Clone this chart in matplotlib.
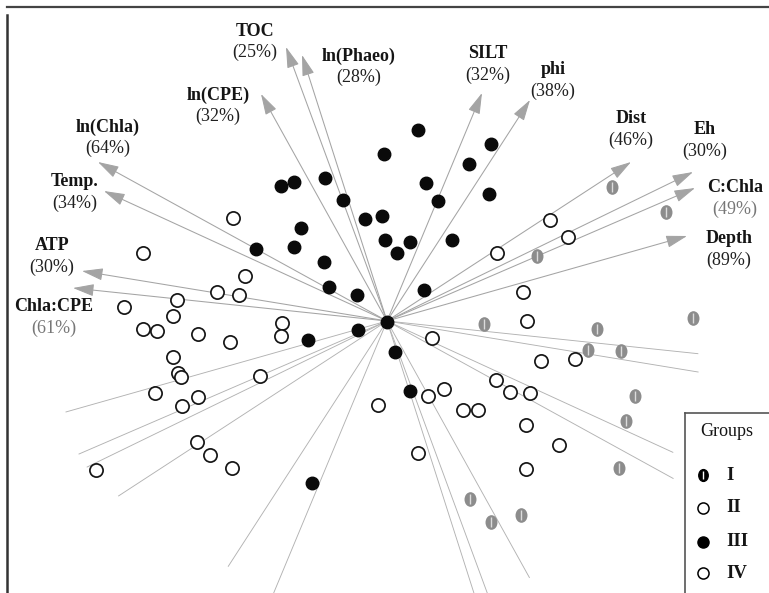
import matplotlib
matplotlib.use("Agg")
import matplotlib.pyplot as plt
from matplotlib.path import Path
from matplotlib.transforms import Affine2D

# variable loadings (arrow tips) and how far each axis line runs back past the origin
variables = ["TOC", "ln(Phaeo)", "ln(CPE)", "ln(Chla)", "Temp.", "ATP", "Chla:CPE",
             "SILT", "phi", "Dist", "Eh", "C:Chla", "Depth"]
percent = ["25%", "28%", "32%", "64%", "34%", "30%", "61%",
           "32%", "38%", "46%", "30%", "49%", "89%"]
load_x = [-1.01, -0.85, -1.26, -2.89, -2.83, -3.05, -3.14, 0.95, 1.43, 2.44, 3.06, 3.08, 3.00]
load_y = [2.74, 2.66, 2.27, 1.59, 1.30, 0.50, 0.33, 2.28, 2.21, 1.59, 1.49, 1.33, 0.85]
back = [1.05, 1.05, 1.13, 0.99, 1.01, 1.02, 0.99, 1.2, 1.11, 1.1, 0.98, 1.0, 1.07]

# station scores by group
g1_x = [2.25, 2.79, 1.50, 0.97, 2.10, 2.01, 2.34, 3.06, 2.48, 2.39, 2.32, 0.83, 1.04, 1.34]
g1_y = [1.34, 1.09, 0.65, -0.03, -0.08, -0.29, -0.30, 0.03, -0.75, -1.00, -1.47, -1.78, -2.01, -1.94]

g2_x = [1.63, 1.81, 1.10, 1.36, 1.40, 0.45, 1.54, 1.88, 1.09, 1.23, 1.43, 0.57, 0.41,
        0.76, 0.91, 1.39, 1.72, 1.39, 0.31]
g2_y = [1.01, 0.84, 0.68, 0.29, 0.00, -0.17, -0.40, -0.38, -0.59, -0.71, -0.72, -0.68, -0.75,
        -0.89, -0.89, -1.04, -1.24, -1.48, -1.32]

g3_x = [-1.06, -0.93, -0.62, -0.44, -0.22, -0.05, -0.02, 0.10, -0.03, -0.86, -0.93, -1.31,
        -0.63, -0.58, -0.30, 0.31, 1.04, 0.82, 0.39, 1.02, 0.51, 0.23, 0.65, 0.37, -0.29,
        -0.79, 0.00, 0.08, -0.75, 0.23]
g3_y = [1.35, 1.39, 1.43, 1.21, 1.02, 1.05, 0.81, 0.68, 1.67, 0.93, 0.74, 0.72,
        0.59, 0.34, 0.26, 1.91, 1.77, 1.57, 1.38, 1.27, 1.20, 0.79, 0.81, 0.31, -0.09,
        -0.19, -0.01, -0.31, -1.62, -0.70]

g4_x = [-1.54, -2.44, -1.42, -1.70, -1.48, -2.10, -2.63, -2.14, -2.44, -2.30, -1.89, -1.57,
        -1.05, -1.06, -2.14, -2.09, -2.06, -1.27, -2.32, -1.89, -2.05, -1.90, -1.77, -1.55,
        -2.91, -0.09]
g4_y = [1.03, 0.68, 0.45, 0.29, 0.26, 0.21, 0.14, 0.05, -0.08, -0.10, -0.13, -0.21,
        -0.02, -0.15, -0.36, -0.52, -0.56, -0.55, -0.72, -0.76, -0.85, -1.21, -1.34, -1.47,
        -1.49, -0.84]

group_names = ["I", "II", "III", "IV"]

# where each variable name sits (percentage goes underneath)
label_pos = [(-1.32, 2.90), (-0.28, 2.65), (-1.69, 2.26), (-2.79, 1.94), (-3.12, 1.39),
             (-3.35, 0.75), (-3.33, 0.14), (1.01, 2.67), (1.66, 2.51), (2.44, 2.02),
             (3.18, 1.91), (3.48, 1.33), (3.42, 0.82)]

serif = "Liberation Serif"
line_grey = "#b2b2b2"
head_grey = "#a4a4a4"

# narrow ellipse used for group I
oval = Path.unit_circle().transformed(Affine2D().scale(0.8, 1.0))

fig = plt.figure(figsize=(7.69, 5.93), dpi=100)
ax = fig.add_axes([0, 0, 1, 1])
ax.set_xlim(-3.87, 3.82)
ax.set_ylim(-2.72, 3.21)
ax.axis("off")

# axis lines through the origin plus arrows
for x, y, b in zip(load_x, load_y, back):
    ax.plot([-b * x, 0], [-b * y, 0], color=line_grey, lw=0.65, zorder=1)
    ax.annotate("", xy=(x, y), xytext=(0, 0),
                arrowprops=dict(arrowstyle="-|>,head_length=1.3,head_width=0.38",
                                color=head_grey, lw=0.75, shrinkA=0, shrinkB=0,
                                mutation_scale=10),
                zorder=1)

for (lx, ly), name, pct in zip(label_pos, variables, percent):
    ax.text(lx, ly, name, ha="center", va="center", fontsize=13,
            fontweight="bold", family=serif, color="#151515")
    pc = "#777777" if name in ("Chla:CPE", "C:Chla") else "#202020"
    ax.text(lx, ly - 0.21, "(" + pct + ")", ha="center", va="center",
            fontsize=13, family=serif, color=pc)

# stations
ax.plot(g2_x, g2_y, "o", ms=9.5, mfc="white", mec="#151515", mew=1.25, ls="none", zorder=3)
ax.plot(g4_x, g4_y, "o", ms=9.5, mfc="white", mec="#151515", mew=1.25, ls="none", zorder=3)
ax.plot(g3_x, g3_y, "o", ms=9, mfc="#0a0a0a", mec="#0a0a0a", ls="none", zorder=3)
ax.plot(g1_x, g1_y, marker=oval, ms=9.5, mfc="#8c8c8c", mec="#8c8c8c", ls="none", zorder=3)
ax.plot(g1_x, g1_y, marker="|", ms=6.5, mec="#dcdcdc", mew=1.0, ls="none", zorder=4)

# outer frame (left and top edges)
ta = ax.transAxes
ax.plot([7 / 769, 7 / 769], [0, 1 - 15 / 593], color="#333333", lw=1.8, transform=ta, clip_on=False)
ax.plot([7 / 769, 1], [1 - 7 / 593, 1 - 7 / 593], color="#444444", lw=1.6, transform=ta, clip_on=False)

# legend box
lx0 = 685 / 769
ly0 = 1 - 413 / 593
ax.plot([lx0, lx0], [0, ly0], color="#555555", lw=1.2, transform=ta, zorder=5)
ax.plot([lx0, 1], [ly0, ly0], color="#555555", lw=1.2, transform=ta, zorder=5)
ax.add_patch(plt.Rectangle((lx0, 0), 1 - lx0, ly0, transform=ta, facecolor="white",
                           edgecolor="none", zorder=4))
ax.text(727 / 769, 1 - 432 / 593, "Groups", transform=ta, ha="center", va="center",
        fontsize=13, family=serif, color="#151515", zorder=6)
rows = [475, 508, 542, 573]
mx = 703 / 769
for name, ry in zip(group_names, rows):
    yy = 1 - ry / 593
    if name == "I":
        ax.plot(mx, yy, marker=oval, ms=8.5, mfc="black", mec="black", transform=ta, zorder=6)
        ax.plot(mx, yy, marker="|", ms=6, mec="white", mew=1.0, transform=ta, zorder=7)
    elif name == "III":
        ax.plot(mx, yy, "o", ms=8, mfc="black", mec="black", transform=ta, zorder=6)
    else:
        ax.plot(mx, yy, "o", ms=8, mfc="white", mec="black", mew=1.1, transform=ta, zorder=6)
    ax.text(726 / 769, yy, name, transform=ta, ha="left", va="center",
            fontsize=13.5, fontweight="bold", family=serif, color="#151515", zorder=6)

fig.savefig("out.png", dpi=100)
